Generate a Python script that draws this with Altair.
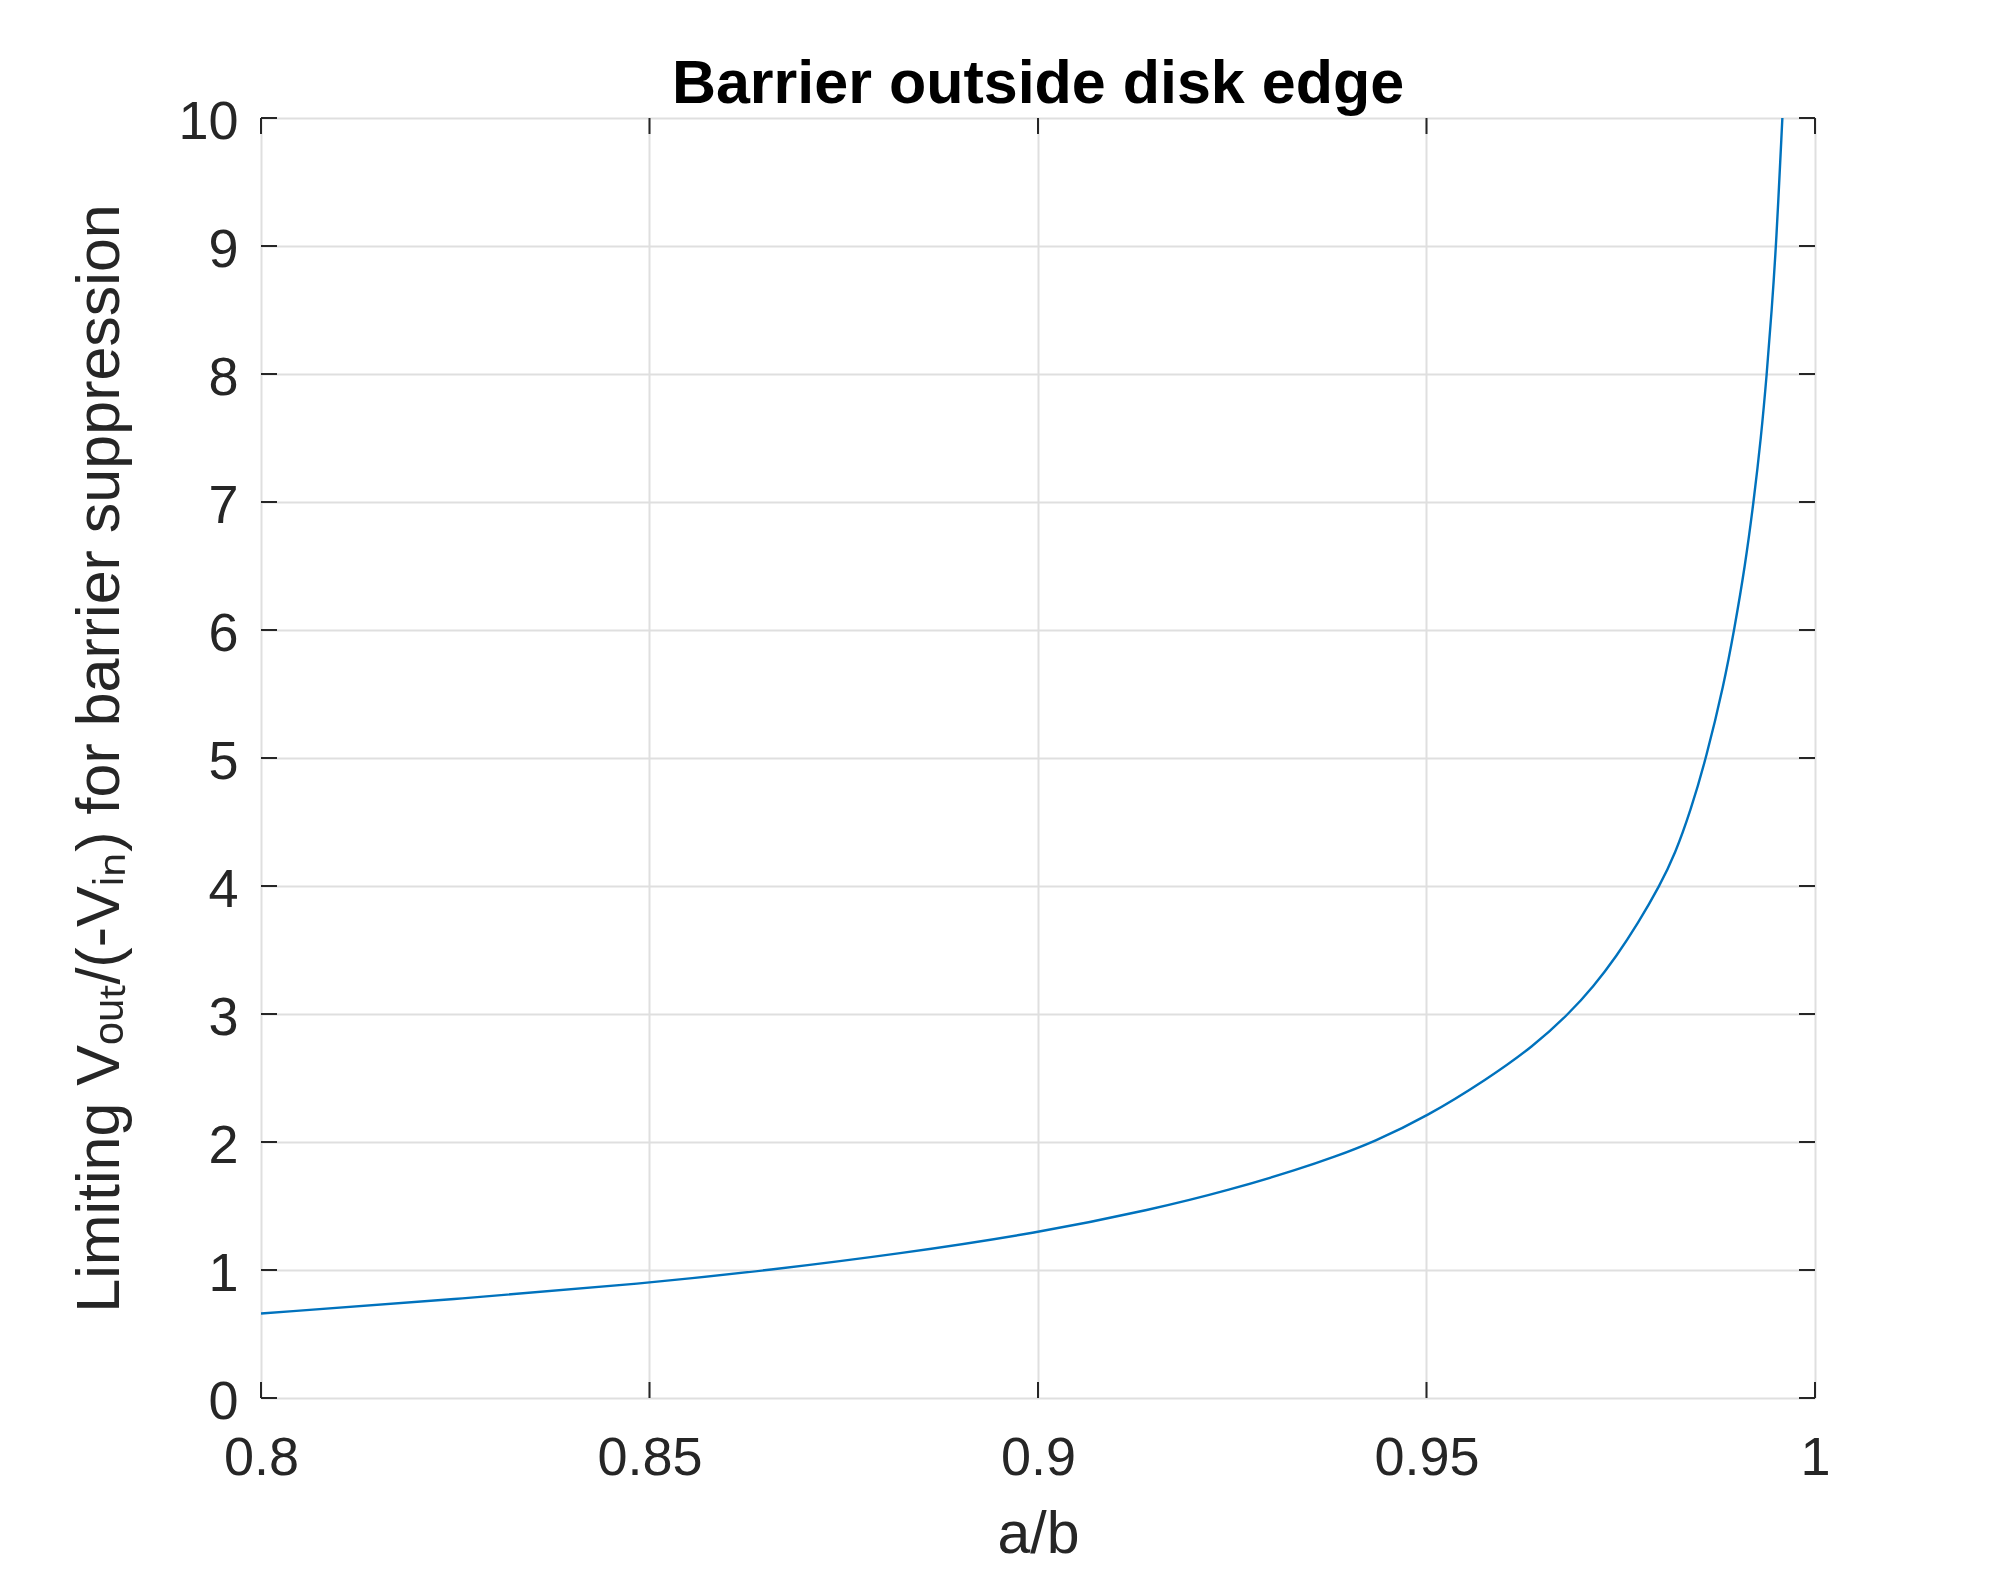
import altair as alt
import pandas as pd

# Curve values
ratio_ab = [0.800, 0.8248, 0.850, 0.8655, 0.882, 0.900, 0.9148, 0.9247,
            0.9337, 0.938, 0.9432, 0.950, 0.9578, 0.9638, 0.9683, 0.9715,
            0.9745, 0.9772, 0.9800, 0.9820, 0.9840, 0.9860, 0.9883, 0.9896, 0.9910, 0.9921,
            0.99305, 0.9938, 0.99443, 0.9950, 0.9958]
limiting_v = [0.66, 0.77, 0.898, 1.0, 1.125, 1.29, 1.474, 1.625,
              1.79, 1.88, 2.0, 2.198, 2.49, 2.75, 3.0, 3.214,
              3.456, 3.706, 4.0, 4.25, 4.59, 5.0, 5.583, 6.0, 6.5, 7.0,
              7.5, 8.0, 8.5, 9.0, 10.0]

x_ticks = [0.8, 0.85, 0.9, 0.95, 1.0]
y_ticks = [0, 1, 2, 3, 4, 5, 6, 7, 8, 9, 10]

W, H = 1554, 1280
TICK = 16
AX = "#262626"
FONT = "Liberation Sans"

df = pd.DataFrame({"ab": ratio_ab, "v": limiting_v})
xt = pd.DataFrame({"t": x_ticks})
yt = pd.DataFrame({"t": y_ticks})

xscale = alt.Scale(domain=[0.8, 1.0], nice=False, zero=False)
yscale = alt.Scale(domain=[0, 10], nice=False, zero=False)

line = alt.Chart(df).mark_line(color="#0072BD", strokeWidth=2.4, interpolate="basis", clip=True).encode(
    x=alt.X("ab:Q", scale=xscale, axis=alt.Axis(
        title="a/b", values=x_ticks, format="~g", ticks=False, tickSize=0, domain=False,
        labelFont=FONT, labelFontSize=54, labelColor=AX, labelPadding=76,
        labelBaseline="alphabetic", labelFlush=False, labelOverlap=False,
        gridColor="#DFDFDF", gridWidth=2,
        titleFont=FONT, titleFontSize=59, titleFontWeight="normal", titleColor=AX,
        titleX=W / 2, titleY=154, titleBaseline="alphabetic", titleAlign="center")),
    y=alt.Y("v:Q", scale=yscale, axis=alt.Axis(
        title="Limiting Vₒᵤₜ/(-Vᵢₙ) for barrier suppression", values=y_ticks, format="d",
        ticks=False, tickSize=0, domain=False,
        labelFont=FONT, labelFontSize=54, labelColor=AX, labelPadding=23,
        labelBaseline="alphabetic", labelOffset=20, labelOverlap=False, labelFlush=False,
        gridColor="#DFDFDF", gridWidth=2,
        titleFont=FONT, titleFontSize=61, titleFontWeight="normal", titleColor=AX,
        titleX=-143, titleY=H / 2, titleAngle=270, titleBaseline="alphabetic", titleAlign="center")),
)

tick_style = dict(color=AX, strokeWidth=2)
bottom_ticks = alt.Chart(xt).mark_rule(**tick_style).encode(
    x=alt.X("t:Q", scale=xscale), y=alt.value(H), y2=alt.value(H - TICK))
top_ticks = alt.Chart(xt).mark_rule(**tick_style).encode(
    x=alt.X("t:Q", scale=xscale), y=alt.value(0), y2=alt.value(TICK))
left_ticks = alt.Chart(yt).mark_rule(**tick_style).encode(
    y=alt.Y("t:Q", scale=yscale), x=alt.value(0), x2=alt.value(TICK))
right_ticks = alt.Chart(yt).mark_rule(**tick_style).encode(
    y=alt.Y("t:Q", scale=yscale), x=alt.value(W), x2=alt.value(W - TICK))

chart = alt.layer(line, bottom_ticks, top_ticks, left_ticks, right_ticks).properties(
    width=W, height=H,
    title=alt.TitleParams("Barrier outside disk edge", font=FONT, fontSize=61, fontWeight="bold",
                          color="#000000", anchor="middle", frame="group", baseline="alphabetic",
                          offset=18, dy=87),
    autosize=alt.AutoSizeParams(type="none"),
    padding={"left": 253, "top": 110, "right": 183, "bottom": 166},
).configure_view(stroke=AX, strokeWidth=2).configure(background="white")

chart.save("out.html", embed_options={"renderer": "svg", "actions": False})
